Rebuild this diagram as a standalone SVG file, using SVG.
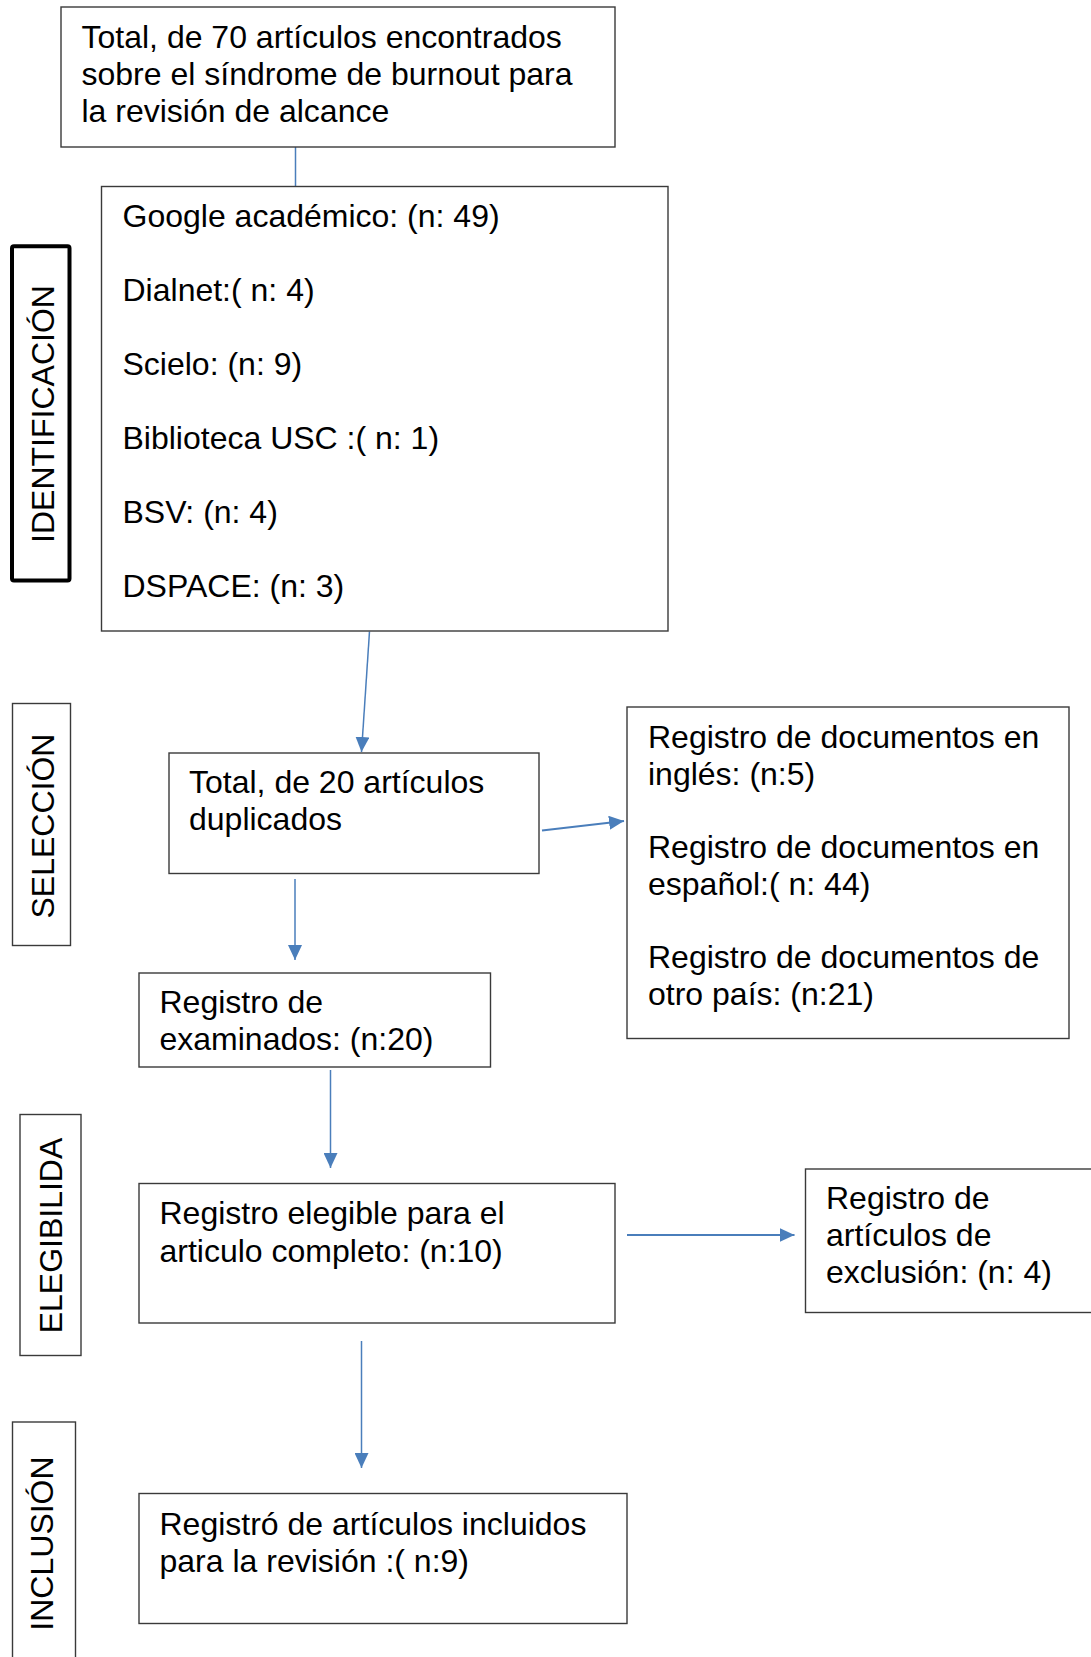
<svg xmlns="http://www.w3.org/2000/svg" width="1091" height="1657" viewBox="0 0 1091 1657">
<style>
  .box { fill: #ffffff; stroke: #3a3a3a; stroke-width: 1.4; }
  .lbl { fill: #ffffff; stroke: #3a3a3a; stroke-width: 1.4; }
  .t { font-family: "Liberation Sans", Arial, sans-serif; font-size: 32px; fill: #000000; }
  .c { stroke: #4A7EBB; stroke-width: 1.5; fill: none; }
  .c2 { stroke: #4A7EBB; stroke-width: 2.2; fill: none; }
</style>
<defs>
  <marker id="ah" markerUnits="userSpaceOnUse" markerWidth="16" markerHeight="14" refX="15" refY="7" orient="auto">
    <path d="M0,0 L15,7 L0,14 Z" fill="#4A7EBB"/>
  </marker>
</defs>
<rect width="1091" height="1657" fill="#ffffff"/>

<g id="label-identificacion">
  <rect x="12" y="246.3" width="57.5" height="334.2" rx="2" fill="#ffffff" stroke="#000000" stroke-width="4"/>
  <text class="t" text-anchor="middle" transform="translate(53.5,414) rotate(-90)">IDENTIFICACIÓN</text>
</g>
<g id="label-seleccion">
  <rect class="lbl" x="12.5" y="703.5" width="58" height="242"/>
  <text class="t" text-anchor="middle" transform="translate(53.5,826) rotate(-90)">SELECCIÓN</text>
</g>
<g id="label-elegibilida">
  <rect class="lbl" x="20" y="1114.5" width="61" height="241"/>
  <text class="t" text-anchor="middle" transform="translate(61.5,1235.5) rotate(-90)">ELEGIBILIDA</text>
</g>
<g id="label-inclusion">
  <rect class="lbl" x="12.5" y="1422" width="63" height="260"/>
  <text class="t" text-anchor="middle" transform="translate(52.5,1543.5) rotate(-90)">INCLUSIÓN</text>
</g>

<g id="connectors">
  <line class="c" x1="295.5" y1="147" x2="295.5" y2="186"/>
  <line class="c" x1="369.5" y1="631.5" x2="361.5" y2="752" marker-end="url(#ah)"/>
  <line class="c2" x1="542" y1="830.5" x2="624" y2="821" marker-end="url(#ah)"/>
  <line class="c" x1="295" y1="879" x2="295" y2="960" marker-end="url(#ah)"/>
  <line class="c" x1="330.5" y1="1070" x2="330.5" y2="1168" marker-end="url(#ah)"/>
  <line class="c2" x1="627" y1="1235" x2="794.5" y2="1235" marker-end="url(#ah)"/>
  <line class="c" x1="361.5" y1="1341" x2="361.5" y2="1468" marker-end="url(#ah)"/>
</g>

<g id="n-total70">
  <rect class="box" x="61" y="7" width="554" height="140"/>
  <text class="t" x="81.5" y="47.5">Total, de 70 artículos encontrados</text>
  <text class="t" x="81.5" y="84.5">sobre el síndrome de burnout para</text>
  <text class="t" x="81.5" y="121.5">la revisión de alcance</text>
</g>

<g id="n-fuentes">
  <rect class="box" x="101.5" y="186.5" width="566.5" height="444.5"/>
  <text class="t" x="122.5" y="227">Google académico: (n: 49)</text>
  <text class="t" x="122.5" y="301">Dialnet:( n: 4)</text>
  <text class="t" x="122.5" y="375">Scielo: (n: 9)</text>
  <text class="t" x="122.5" y="449">Biblioteca USC :( n: 1)</text>
  <text class="t" x="122.5" y="523">BSV: (n: 4)</text>
  <text class="t" x="122.5" y="597">DSPACE: (n: 3)</text>
</g>

<g id="n-duplicados">
  <rect class="box" x="169" y="753" width="370" height="120.5"/>
  <text class="t" x="189" y="793">Total, de 20 artículos</text>
  <text class="t" x="189" y="830">duplicados</text>
</g>

<g id="n-idiomas">
  <rect class="box" x="627" y="707" width="442" height="331.5"/>
  <text class="t" x="648" y="748">Registro de documentos en</text>
  <text class="t" x="648" y="785">inglés: (n:5)</text>
  <text class="t" x="648" y="858">Registro de documentos en</text>
  <text class="t" x="648" y="895">español:( n: 44)</text>
  <text class="t" x="648" y="968">Registro de documentos de</text>
  <text class="t" x="648" y="1005">otro país: (n:21)</text>
</g>

<g id="n-examinados">
  <rect class="box" x="139" y="973" width="351.5" height="94"/>
  <text class="t" x="159.5" y="1013">Registro de</text>
  <text class="t" x="159.5" y="1050">examinados: (n:20)</text>
</g>

<g id="n-elegible">
  <rect class="box" x="139" y="1183.5" width="476" height="139.5"/>
  <text class="t" x="159.5" y="1223.5">Registro elegible para el</text>
  <text class="t" x="159.5" y="1261.5">articulo completo: (n:10)</text>
</g>

<g id="n-exclusion">
  <rect class="box" x="805.5" y="1169" width="300" height="143.5"/>
  <text class="t" x="826" y="1209">Registro de</text>
  <text class="t" x="826" y="1246">artículos de</text>
  <text class="t" x="826" y="1283">exclusión: (n: 4)</text>
</g>

<g id="n-incluidos">
  <rect class="box" x="139" y="1493.5" width="488" height="130"/>
  <text class="t" x="159.5" y="1534.5">Registró de artículos incluidos</text>
  <text class="t" x="159.5" y="1571.5">para la revisión :( n:9)</text>
</g>
</svg>
